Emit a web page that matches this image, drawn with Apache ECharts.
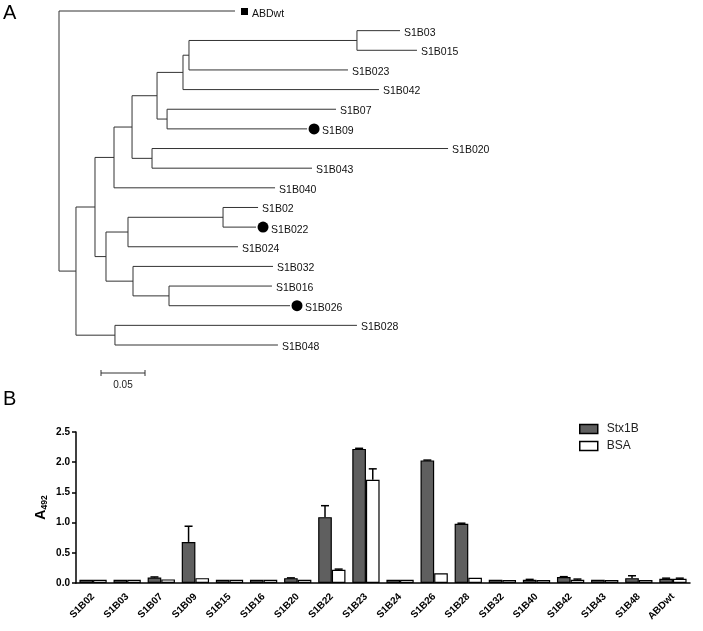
<!DOCTYPE html>
<html><head><meta charset="utf-8">
<script src="https://cdn.jsdelivr.net/npm/echarts@6/dist/echarts.min.js"></script>
<style>html,body{margin:0;padding:0;background:#fff}#c{width:703px;height:631px}</style>
</head><body><div id="c"></div>
<script>
// ---------- Panel A: phylogenetic tree (parent table, branch lengths in substitutions/site) ----------
const nodeIds = ['root','ABDwt','n1','n2','n3','n4','n5','n6','n7','n0315','S1B03','S1B015','S1B023','S1B042',
  'n0709','S1B07','S1B09','n2043','S1B020','S1B043','S1B040','n8','n9','n10','S1B02','S1B022','S1B024',
  'n11','S1B032','n12','S1B016','S1B026','n13','S1B028','S1B048'];
const nodeParents = [null,'root','root','n1','n2','n3','n4','n5','n6','n7','n0315','n0315','n7','n6',
  'n5','n0709','n0709','n4','n2043','n2043','n3','n2','n8','n9','n10','n10','n9',
  'n8','n11','n11','n12','n12','n1','n13','n13'];
const branchLengths = [0,0.2000,0.0193,0.0216,0.0216,0.0205,0.0284,0.0295,0.0068,0.1909,0.0489,0.0682,0.1807,0.2227,
  0.0114,0.1920,0.1591,0.0227,0.3364,0.1818,0.1830,0.0125,0.0250,0.1080,0.0398,0.0375,0.1250,
  0.0307,0.1591,0.0409,0.1170,0.1375,0.0443,0.2750,0.1852];
const markedLeaves = ['ABDwt','S1B09','S1B022','S1B026'];
const markerShapes = ['square','circle','circle','circle'];
const scaleBarLength = 0.05;
const scaleBarLabel = '0.05';

// ---------- Panel B: ELISA bar chart ----------
const categories = ['S1B02','S1B03','S1B07','S1B09','S1B15','S1B16','S1B20','S1B22','S1B23','S1B24','S1B26','S1B28','S1B32','S1B40','S1B42','S1B43','S1B48','ABDwt'];
const stx1bValues = [0.055,0.055,0.09,0.68,0.055,0.055,0.08,1.09,2.22,0.055,2.03,0.98,0.055,0.055,0.10,0.055,0.08,0.07];
const stx1bErrors = [0,0,0.01,0.26,0,0,0.005,0.19,0.01,0,0.005,0.01,0,0.005,0.005,0,0.04,0.01];
const bsaValues   = [0.055,0.055,0.06,0.08,0.055,0.055,0.055,0.22,1.71,0.055,0.16,0.085,0.05,0.05,0.055,0.05,0.05,0.07];
const bsaErrors   = [0,0,0,0,0,0,0,0.01,0.18,0,0,0,0,0,0.01,0,0,0.01];
const seriesNames = ['Stx1B','BSA'];
const yTicks = [0,0.5,1.0,1.5,2.0,2.5];

const FONT = 'Liberation Sans, Arial, Helvetica, sans-serif';

// ---- tree layout ----
const kids = {};
nodeIds.forEach((id,i)=>{ const p=nodeParents[i]; if(p){ (kids[p]=kids[p]||[]).push(id); } });
const depth = {}, ypos = {}; let leafCount = 0; const leafOrder = [];
function layout(id, d){
  depth[id]=d; const ch=kids[id]||[];
  if(!ch.length){ ypos[id]=leafCount++; leafOrder.push(id); return; }
  ch.forEach(c=>layout(c, d+branchLengths[nodeIds.indexOf(c)]));
  ypos[id]=(ypos[ch[0]]+ypos[ch[ch.length-1]])/2;
}
layout('root',0);
const segments = [];
nodeIds.forEach((id,i)=>{
  const p=nodeParents[i];
  if(p) segments.push([depth[p],ypos[id],depth[id],ypos[id]]);
  const ch=kids[id];
  if(ch) segments.push([depth[id],ypos[ch[0]],depth[id],ypos[ch[ch.length-1]]]);
});
const leafData = leafOrder.map(id=>[depth[id],ypos[id]]);

// ---- error bar data ----
function errData(vals, errs){ return vals.map((v,i)=>[i,v,errs[i]]).filter(d=>d[2]>0); }

const chart = echarts.init(document.getElementById('c'), null, {renderer:'canvas'});
function errRender(sign){
  return function(params, api){
    const i=api.value(0), v=api.value(1), e=api.value(2);
    const band=api.size([1,0])[0];
    const base=api.coord([i,v]); const top=api.coord([i,v+e]);
    const x=base[0]+sign*band*0.2;
    return {type:'group', children:[
      {type:'line', shape:{x1:x,y1:base[1],x2:x,y2:top[1]}, style:{stroke:'#000',lineWidth:1.5}},
      {type:'line', shape:{x1:x-4,y1:top[1],x2:x+4,y2:top[1]}, style:{stroke:'#000',lineWidth:1.5}}
    ]};
  };
}

const option = {
  backgroundColor:'#fff',
  animation:false,
  textStyle:{fontFamily:FONT},
  graphic:[
    {type:'text', left:3, top:3, style:{text:'A', fontSize:20, fill:'#000', fontFamily:FONT}},
    {type:'text', left:3, top:389, style:{text:'B', fontSize:20, fill:'#000', fontFamily:FONT}}
  ],
  grid:[
    {left:59, top:11, width:396, height:334},
    {left:76, top:432, width:614, height:151}
  ],
  xAxis:[
    {gridIndex:0, type:'value', min:0, max:0.45, show:false},
    {gridIndex:1, type:'category', data:categories,
     axisLine:{lineStyle:{color:'#000', width:1.5}},
     axisTick:{alignWithLabel:true, length:4, lineStyle:{color:'#000', width:1.5}},
     axisLabel:{interval:0, rotate:45, fontSize:10, fontWeight:'bold', color:'#000', margin:12, fontFamily:FONT}}
  ],
  yAxis:[
    {gridIndex:0, type:'value', min:0, max:17, inverse:true, show:false},
    {gridIndex:1, type:'value', min:yTicks[0], max:yTicks[yTicks.length-1], interval:0.5,
     name:'{a|A}{s|492}', nameLocation:'middle', nameRotate:90, nameGap:27, nameMoveOverlap:false,
     nameTextStyle:{rich:{
       a:{fontSize:14, fontWeight:'bold', color:'#000', lineHeight:16, verticalAlign:'middle', fontFamily:FONT},
       s:{fontSize:8.5, fontWeight:'bold', color:'#000', lineHeight:8, verticalAlign:'bottom', fontFamily:FONT}}},
     axisLine:{show:true, lineStyle:{color:'#000', width:1.5}},
     axisTick:{show:true, length:4, lineStyle:{color:'#000', width:1.5}},
     splitLine:{show:false},
     axisLabel:{fontSize:10, fontWeight:'bold', color:'#000', margin:6, fontFamily:FONT, formatter:v=>v.toFixed(1)}}
  ],
  legend:{data:seriesNames, orient:'vertical', left:579, top:423, padding:0, icon:'rect', itemWidth:18, itemHeight:9, itemGap:5,
    itemStyle:{borderColor:'#000', borderWidth:1.5},
    textStyle:{fontSize:12, color:'#222', fontFamily:FONT, padding:[0,0,0,4]}},
  series:[
    {type:'custom', name:'branches', xAxisIndex:0, yAxisIndex:0, data:segments, silent:true, clip:false,
     renderItem:(params, api)=>{
       const p1=api.coord([api.value(0),api.value(1)]), p2=api.coord([api.value(2),api.value(3)]);
       return {type:'line', shape:{x1:p1[0],y1:p1[1],x2:p2[0],y2:p2[1]}, style:{stroke:'#333', lineWidth:1}};
     }},
    {type:'custom', name:'leaves', xAxisIndex:0, yAxisIndex:0, data:leafData, silent:true, clip:false,
     renderItem:(params, api)=>{
       const p=api.coord([api.value(0),api.value(1)]);
       const name=leafOrder[params.dataIndex];
       const mi=markedLeaves.indexOf(name); const shape= mi>=0 ? markerShapes[mi] : null;
       const ch=[]; let tx=p[0]+4, ty=p[1]+2;
       if(shape==='circle'){ ch.push({type:'circle', shape:{cx:p[0]+7, cy:p[1], r:5.5}, style:{fill:'#000'}}); tx=p[0]+15; ty=p[1]+2.5; }
       if(shape==='square'){ ch.push({type:'rect', shape:{x:p[0]+6, y:p[1]-3, width:7, height:7}, style:{fill:'#000'}}); tx=p[0]+17; ty=p[1]+3; }
       ch.push({type:'text', x:tx, y:ty, style:{text:name, fontSize:10.5, fontFamily:FONT, fill:'#111', align:'left', verticalAlign:'middle'}});
       return {type:'group', children:ch};
     }},
    {type:'custom', name:'scalebar', xAxisIndex:0, yAxisIndex:0, data:[[scaleBarLength]], silent:true, clip:false,
     renderItem:(params, api)=>{
       const len=api.size([api.value(0),0])[0];
       const x0=api.coord([0,0])[0]+42, y=373;
       return {type:'group', children:[
         {type:'line', shape:{x1:x0,y1:y,x2:x0+len,y2:y}, style:{stroke:'#333',lineWidth:1}},
         {type:'line', shape:{x1:x0,y1:y-3,x2:x0,y2:y+3}, style:{stroke:'#333',lineWidth:1}},
         {type:'line', shape:{x1:x0+len,y1:y-3,x2:x0+len,y2:y+3}, style:{stroke:'#333',lineWidth:1}},
         {type:'text', x:x0+len/2, y:y+12, style:{text:scaleBarLabel, fontSize:10, fontFamily:FONT, fill:'#222', align:'center', verticalAlign:'middle'}}
       ]};
     }},
    {type:'bar', name:seriesNames[0], xAxisIndex:1, yAxisIndex:1, data:stx1bValues, barWidth:'40%', barGap:'0%',
     itemStyle:{color:'#5f5f5f', borderColor:'#000', borderWidth:1.2}},
    {type:'bar', name:seriesNames[1], xAxisIndex:1, yAxisIndex:1, data:bsaValues, barWidth:'40%', barGap:'0%',
     itemStyle:{color:'#fff', borderColor:'#000', borderWidth:1.2}},
    {type:'custom', name:'stxErr', xAxisIndex:1, yAxisIndex:1, data:errData(stx1bValues,stx1bErrors), z:5, silent:true, renderItem:errRender(-1)},
    {type:'custom', name:'bsaErr', xAxisIndex:1, yAxisIndex:1, data:errData(bsaValues,bsaErrors), z:5, silent:true, renderItem:errRender(1)}
  ]
};
chart.setOption(option);
</script></body></html>
